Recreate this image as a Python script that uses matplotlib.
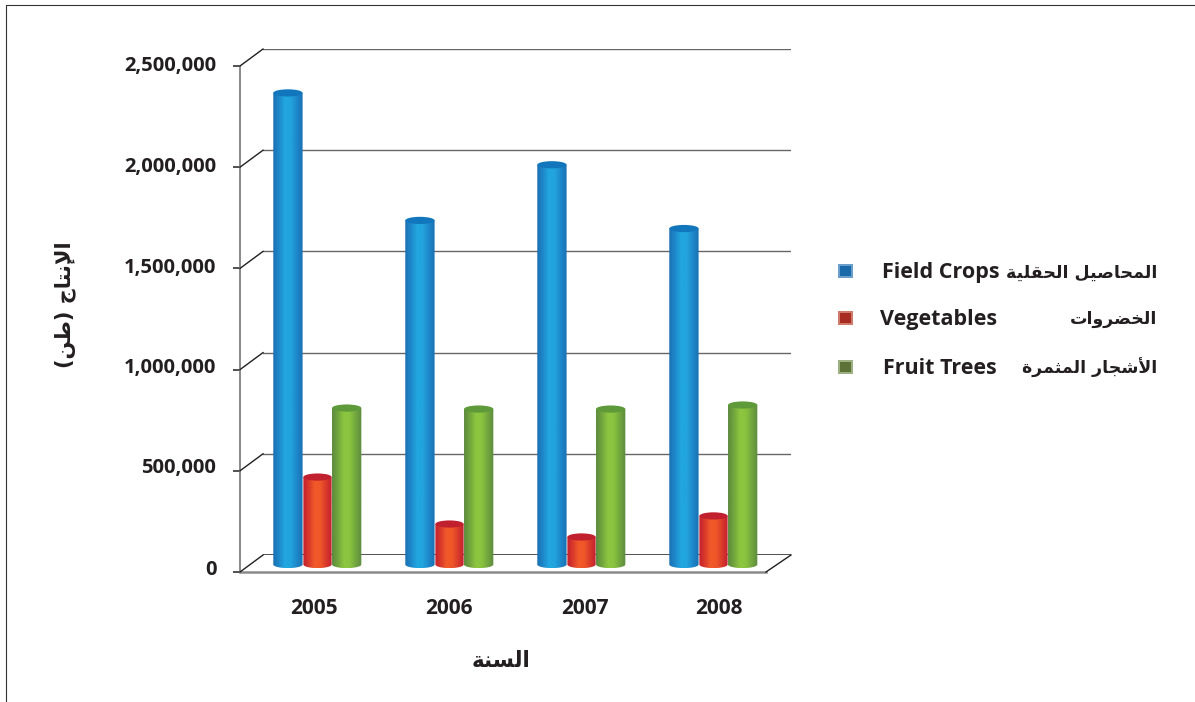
import numpy as np
import matplotlib
matplotlib.use("Agg")
import matplotlib.pyplot as plt
from matplotlib.colors import LinearSegmentedColormap
from matplotlib.patches import Ellipse, PathPatch, Rectangle
from matplotlib.lines import Line2D
from matplotlib.path import Path
from matplotlib.transforms import ScaledTranslation

years = ["2005", "2006", "2007", "2008"]
field_crops = [2330000, 1700000, 1975000, 1660000]
vegetables = [432000, 200000, 136000, 240000]
fruit_trees = [773000, 768000, 768000, 788000]
y_ticks = [0, 500000, 1000000, 1500000, 2000000, 2500000]
names_en = ["Field Crops", "Vegetables", "Fruit Trees"]
names_ar = ["المحاصيل الحقلية", "الخضروات", "الأشجار المثمرة"]
xlabel_ar = "السنة"
ylabel_ar = "الإنتاج (طن)"

W, H = 1195, 702
INK = "#231f20"
EN_FONT = "Open Sans"


# matplotlib neither joins nor reorders Arabic, so use presentation forms in visual order
FORMS = {
    "ا": (0xFE8D, 2), "أ": (0xFE83, 2), "إ": (0xFE87, 2), "د": (0xFEA9, 2), "ر": (0xFEAD, 2),
    "و": (0xFEED, 2), "ة": (0xFE93, 2), "ب": (0xFE8F, 4), "ت": (0xFE95, 4), "ث": (0xFE99, 4),
    "ج": (0xFE9D, 4), "ح": (0xFEA1, 4), "خ": (0xFEA5, 4), "س": (0xFEB1, 4), "ش": (0xFEB5, 4),
    "ص": (0xFEB9, 4), "ض": (0xFEBD, 4), "ط": (0xFEC1, 4), "ق": (0xFED5, 4), "ل": (0xFEDD, 4),
    "م": (0xFEE1, 4), "ن": (0xFEE5, 4), "ه": (0xFEE9, 4), "ي": (0xFEF1, 4),
}


def shape(text):
    text = text.replace("لأ", "\uE001").replace("لإ", "\uE002").replace("لا", "\uE003")
    lig = {"\uE001": 0xFEF7, "\uE002": 0xFEF9, "\uE003": 0xFEFB}
    out = []
    for i, ch in enumerate(text):
        prev = text[i - 1] if i else " "
        nxt = text[i + 1] if i + 1 < len(text) else " "
        joins_prev = prev in FORMS and FORMS[prev][1] == 4
        if ch in lig:
            out.append(chr(lig[ch] + (1 if joins_prev else 0)))
        elif ch in FORMS:
            base, n = FORMS[ch]
            joins_next = n == 4 and (nxt in FORMS or nxt in lig)
            if n == 2:
                idx = 1 if joins_prev else 0
            else:
                idx = {(0, 0): 0, (1, 0): 1, (0, 1): 2, (1, 1): 3}[(int(joins_prev), int(joins_next))]
            out.append(chr(base + idx))
        else:
            out.append(ch)
    return "".join(reversed(out)).translate(str.maketrans("()", ")("))


def rect_px(left, top, right, bottom):
    return [left / W, 1 - bottom / H, (right - left) / W, (bottom - top) / H]


fig = plt.figure(figsize=(W / 100, H / 100), dpi=100, facecolor="white")

# page frame
fig.add_artist(Line2D([6 / W, 6 / W, 1], [0, 1 - 5 / H, 1 - 5 / H], color="#333333", lw=0.8))

# front plane, holding the value axis
ax = fig.add_axes(rect_px(240, 66, 766, 572), facecolor="none")
ax.set_xlim(-0.5, 3.5)
ax.set_ylim(0, 2500000)
ax.set_xticks([])
ax.set_yticks(y_ticks)
ax.set_yticklabels([f"{v:,}" for v in y_ticks], fontfamily=EN_FONT, fontweight="bold",
                    fontsize=14.5, color=INK, va="center")
ax.tick_params(axis="y", length=5, width=1.1, color=INK, pad=12)
for lbl, dy in zip(ax.get_yticklabels(), [2, 3, 2, 0, 0, 0]):
    lbl.set_transform(lbl.get_transform() + ScaledTranslation(0, dy / 100, fig.dpi_scale_trans))
for s in ["top", "right"]:
    ax.spines[s].set_visible(False)
ax.spines["left"].set_color("#8a8a8a")
ax.spines["left"].set_linewidth(1.4)
ax.spines["bottom"].set_color("#8a8a8a")
ax.spines["bottom"].set_linewidth(1.8)

# back plane, holding the grid
back = fig.add_axes(rect_px(263, 49, 791, 555), facecolor="none", zorder=-1)
back.set_xlim(0, 1)
back.set_ylim(0, 2500000)
back.axis("off")
for v in y_ticks:
    back.axhline(v, color="#666666" if v else INK, lw=1.0 if v else 1.1)
    y = 572 - v / 2500000 * 506
    fig.add_artist(Line2D([240 / W, 263 / W], [1 - y / H, 1 - (y - 17) / H], color=INK, lw=1.0))
fig.add_artist(Line2D([766 / W, 791 / W], [1 - 572 / H, 1 - 555 / H], color=INK, lw=1.0))

# mid-depth plane, holding the cylinders; extends below zero so the rounded foot shows
per_px = 2500000 / 506
mid = fig.add_axes(rect_px(251.5, 58.5, 779.5, 570.5), facecolor="none", zorder=2)
ylim_mid = (-6 * per_px, 2500000)
mid.set_xlim(-0.5, 3.5)
mid.set_ylim(*ylim_mid)
mid.axis("off")

series = [
    (field_crops, -0.224, 0.222, ["#1a70b2", "#1e88ca", "#22a7e0", "#22a3dd", "#1e88ca", "#1a70b2"], "#1276bd"),
    (vegetables, 0.0, 0.214, ["#c0202f", "#d93a2b", "#f15a29", "#ef5729", "#d93a2b", "#c0202f"], "#c1202e"),
    (fruit_trees, 0.221, 0.222, ["#5c8a3e", "#72a63e", "#8dc63f", "#8ac33f", "#72a63e", "#5c8a3e"], "#5e9a3a"),
]
ry = 3.6 * per_px
t = np.linspace(0, np.pi, 40)
for values, off, width, stops, top_color in series:
    cmap = LinearSegmentedColormap.from_list("c", stops)
    bars = mid.bar(np.arange(len(years)) + off, values, width=width, color="none", linewidth=0)
    for bar in bars:
        x0, w, h = bar.get_x(), bar.get_width(), bar.get_height()
        cx = x0 + w / 2
        xs = np.r_[x0, cx - w / 2 * np.cos(t), x0 + w, x0]
        ys = np.r_[h, -ry * np.sin(t), h, h]
        body = PathPatch(Path(np.c_[xs, ys]), transform=mid.transData, facecolor="none", edgecolor="none")
        mid.add_patch(body)
        im = mid.imshow(np.linspace(0, 1, 128)[None, :], cmap=cmap, aspect="auto",
                        extent=[x0, x0 + w, -ry, h + ry], zorder=2)
        im.set_clip_path(body)
        mid.add_patch(Ellipse((cx, h), w, 2 * ry, facecolor=top_color, edgecolor="none", zorder=3, clip_on=False))
mid.set_xlim(-0.5, 3.5)
mid.set_ylim(*ylim_mid)

# x labels and axis titles
for label, px in zip(years, [314, 449, 585, 719]):
    fig.text(px / W, 1 - 608 / H, label, ha="center", va="center", fontfamily=EN_FONT,
             fontweight="bold", fontsize=15, color=INK)
fig.text(501 / W, 1 - 661 / H, shape(xlabel_ar), ha="center", va="center", fontfamily="DejaVu Sans",
         fontweight="bold", fontsize=15.5, color=INK)
fig.text(65 / W, 1 - 305 / H, shape(ylabel_ar), ha="center", va="center", rotation=90,
         fontfamily="DejaVu Sans", fontweight="bold", fontsize=15, color=INK)

# legend
swatches = [("#1a69a8", "#6a9fcc"), ("#a92c22", "#cf7b6c"), ("#5c7238", "#9db084")]
rows = [(271, 1000, 273), (318, 997, 319), (367, 997, 368)]
for (inner, outer), (sy, ex, ey), en, ar in zip(swatches, rows, names_en, names_ar):
    fig.add_artist(Rectangle((838 / W, 1 - (sy + 7) / H), 15 / W, 14 / H, facecolor=outer,
                             edgecolor="none", transform=fig.transFigure))
    fig.add_artist(Rectangle((840 / W, 1 - (sy + 5) / H), 11 / W, 10 / H, facecolor=inner,
                             edgecolor="none", transform=fig.transFigure))
    fig.text(ex / W, 1 - ey / H, en, ha="right", va="center", fontfamily=EN_FONT, fontweight="bold",
             fontsize=15.5, color=INK)
    fig.text(1157 / W, 1 - ey / H, shape(ar), ha="right", va="center", fontfamily="DejaVu Sans",
             fontweight="bold", fontsize=12.5, color=INK)

fig.savefig("out.png", dpi=100, facecolor="white")
